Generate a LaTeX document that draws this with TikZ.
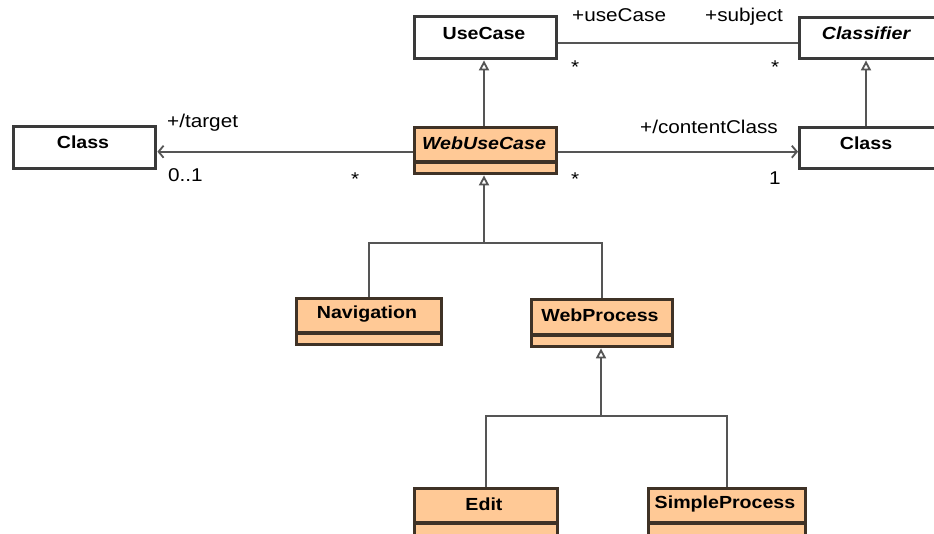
\documentclass[tikz,border=0pt]{standalone}
\usepackage{fontspec}
\setmainfont{Liberation Sans}[FakeStretch=1.12]
\usetikzlibrary{arrows.meta}
\definecolor{boxline}{HTML}{3A3A3A}
\definecolor{webline}{HTML}{3F3226}
\definecolor{webfill}{HTML}{FFC996}
\definecolor{conn}{HTML}{555555}
\tikzset{
  x=1pt, y=-1pt,
  every node/.style={font=\fontsize{17.5}{20}\selectfont, inner sep=0pt},
  plainbox/.style={draw=boxline, line width=3.4pt, fill=white, rectangle, anchor=north west},
  webbox/.style={draw=webline, line width=3.4pt, fill=webfill, rectangle, anchor=north west},
  divider/.style={draw=webline, line width=3.4pt},
  cname/.style={font=\fontsize{17.5}{20}\selectfont\bfseries},
  aname/.style={font=\fontsize{17.5}{20}\selectfont\bfseries\itshape},
  role/.style={anchor=base west, font=\fontsize{18.5}{21}\selectfont},
  gen/.style={draw=conn, line width=2.3pt, -{Triangle[open, length=10pt, width=10pt, line width=1.8pt, fill=white]}},
  assoc/.style={draw=conn, line width=2.3pt, -{Straight Barb[length=5pt, width=12pt, line width=1.8pt]}},
  link/.style={draw=conn, line width=2.3pt},
  tree/.style={draw=conn, line width=2.3pt},
}
\begin{document}
\begin{tikzpicture}
\useasboundingbox (0,0) rectangle (934,533);
\clip (0,0) rectangle (934,533);
\fill[white] (0,0) rectangle (934,533);

% classes without extra compartment
\node[plainbox, minimum width=142pt, minimum height=42pt] (uc) at (413,15) {};
\node[cname] (uct) at (484,33) {UseCase};
\node[plainbox, minimum width=136pt, minimum height=41pt] (clf) at (798,16) {};
\node[aname] (clft) at (866,33) {Classifier};
\node[plainbox, minimum width=136pt, minimum height=41pt] (cr) at (798,126) {};
\node[cname] (crt) at (866,143) {Class};
\node[plainbox, minimum width=142pt, minimum height=42pt] (cl) at (12,125) {};
\node[cname] (clt) at (83,142) {Class};

% web use case classes with an empty attribute compartment
\node[webbox, minimum width=142pt, minimum height=46pt] (wuc) at (413,126) {};
\draw[divider] ([yshift=-36pt]wuc.north west) -- ([yshift=-36pt]wuc.north east);
\node[aname] (wuct) at (484,143) {WebUseCase};

\node[webbox, minimum width=145pt, minimum height=46pt] (nav) at (295,297) {};
\draw[divider] ([yshift=-36pt]nav.north west) -- ([yshift=-36pt]nav.north east);
\node[cname] (navt) at (367,314) {Navigation};

\node[webbox, minimum width=141pt, minimum height=47pt] (wp) at (530,298) {};
\draw[divider] ([yshift=-37pt]wp.north west) -- ([yshift=-37pt]wp.north east);
\node[cname] (wpt) at (600,315) {WebProcess};

\node[webbox, minimum width=143pt, minimum height=60pt] (ed) at (413,487) {};
\draw[divider] ([yshift=-36pt]ed.north west) -- ([yshift=-36pt]ed.north east);
\node[cname] (edt) at (484,504) {Edit};

\node[webbox, minimum width=157pt, minimum height=60pt] (sp) at (647,487) {};
\draw[divider] ([yshift=-36pt]sp.north west) -- ([yshift=-36pt]sp.north east);
\node[cname] (spt) at (725,504) {SimpleProcess};

% associations
\draw[link] ([yshift=-5pt]uc.east) -- ([yshift=-5pt]uc.east -| clf.west);
\draw[assoc] ([yshift=-1pt]wuc.east) -- ([yshift=-1pt]wuc.east -| cr.west);
\draw[assoc] ([yshift=-1pt]wuc.west) -- ([yshift=-1pt]wuc.west -| cl.east);

% generalizations
\coordinate (j0) at (484,126);
\draw[gen] (wuc.north -| j0) -- (uc.south -| j0);
\draw[gen] (cr.north -| clft) -- (clf.south -| clft);

\coordinate (j1) at (484,243);
\draw[gen] (j1) -- (wuc.south -| j1);
\draw[tree] (nav.north) -- (nav.north |- j1) -- (wp.north |- j1) -- (wp.north);

\coordinate (j2) at (601,416);
\draw[gen] (j2) -- (wp.south -| j2);
\draw[tree] (ed.north) -- (ed.north |- j2) -- (sp.north |- j2) -- (sp.north);

% role names and multiplicities
\node[role] (r1) at (572,21) {+useCase};
\node[role] (r2) at (705,21) {+subject};
\node[role] (m1) at (571,73) {*};
\node[role] (m2) at (771,73) {*};
\node[role] (r3) at (640,133) {+/contentClass};
\node[role] (m3) at (571,185) {*};
\node[role] (m4) at (769,184) {1};
\node[role] (r4) at (167,127) {+/target};
\node[role] (m5) at (168,181) {0..1};
\node[role] (m6) at (351,185) {*};
\end{tikzpicture}
\end{document}
